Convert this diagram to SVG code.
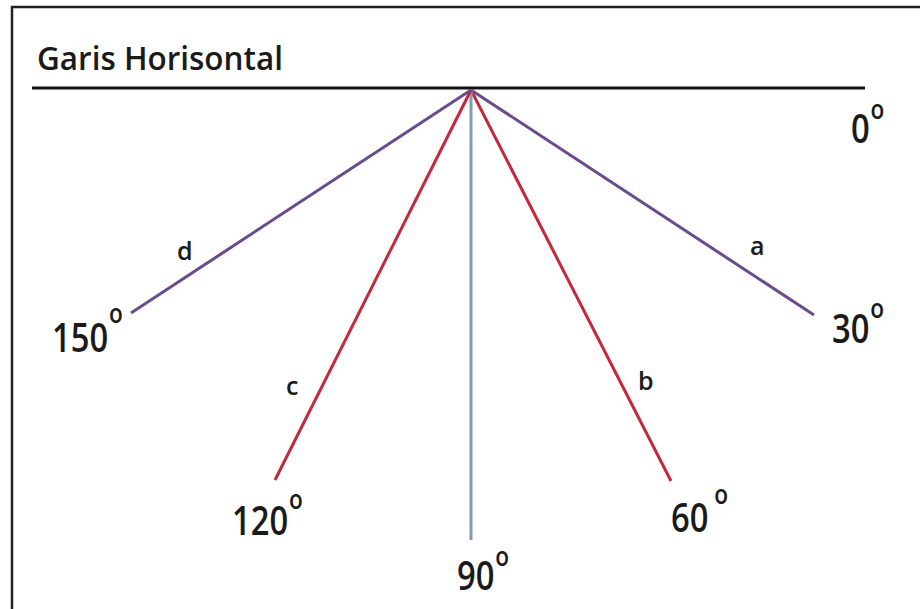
<svg xmlns="http://www.w3.org/2000/svg" width="920" height="609" viewBox="0 0 920 609">
<style>
.t{font-family:"Open Sans","Liberation Sans",sans-serif;font-weight:600;fill:#1a1a1a}
.n{font-size:39px}
.s{font-size:27px}
.l{font-size:25px}
.pu{stroke:#6a4c8c;stroke-width:3;fill:none}
.rd{stroke:#c4283c;stroke-width:3;fill:none}
.bl{stroke:#809bb6;stroke-width:3;fill:none}
</style>
<rect width="920" height="609" fill="#fff"/>
<path d="M12,609 V7 H920" fill="none" stroke="#222" stroke-width="2.5"/>
<g id="title"><text class="t" x="37" y="70" font-size="32" textLength="246" lengthAdjust="spacingAndGlyphs">Garis Horisontal</text></g>
<g id="connectors">
<line id="horizontal" x1="32" y1="88" x2="865" y2="88" stroke="#111" stroke-width="3"/>
<line class="pu" x1="471" y1="90" x2="814" y2="315"/>
<line class="rd" x1="471" y1="90" x2="671" y2="481"/>
<line class="bl" x1="471" y1="90" x2="471" y2="540"/>
<line class="rd" x1="471" y1="90" x2="275" y2="480"/>
<line class="pu" x1="471" y1="90" x2="131" y2="313"/>
</g>
<g id="deg0"><text class="t n" transform="translate(851,143) scale(0.84,1)">0<tspan class="s" dx="1" dy="-24">o</tspan></text></g>
<g id="deg30"><text class="t n" transform="translate(832,343) scale(0.84,1)">30<tspan class="s" dx="1" dy="-25">o</tspan></text></g>
<g id="deg60"><text class="t n" transform="translate(671,532) scale(0.84,1)">60<tspan class="s" dx="7" dy="-28">o</tspan></text></g>
<g id="deg90"><text class="t n" transform="translate(457,590) scale(0.84,1)">90<tspan class="s" dx="1" dy="-24">o</tspan></text></g>
<g id="deg120"><text class="t n" transform="translate(232,535) scale(0.84,1)">120<tspan class="s" dx="1" dy="-26">o</tspan></text></g>
<g id="deg150"><text class="t n" transform="translate(52,352) scale(0.84,1)">150<tspan class="s" dx="1" dy="-29">o</tspan></text></g>
<g id="label-a"><text class="t l" x="750" y="255">a</text></g>
<g id="label-b"><text class="t l" x="638" y="390">b</text></g>
<g id="label-c"><text class="t l" x="286" y="395">c</text></g>
<g id="label-d"><text class="t l" x="177" y="260">d</text></g>
</svg>
